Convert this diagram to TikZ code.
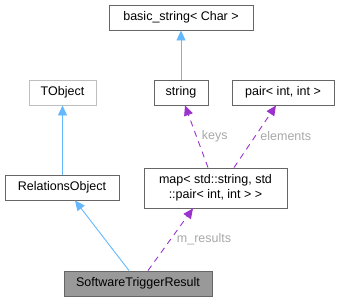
\documentclass[tikz,border=0pt]{standalone}
\usepackage{fontspec}
\setmainfont{Liberation Sans}
\usetikzlibrary{arrows.meta}
\definecolor{edgeblue}{HTML}{63B8FF}
\definecolor{edgepurple}{HTML}{9A32CD}
\definecolor{labelgray}{HTML}{A8A8A8}
\definecolor{boxgray}{HTML}{666666}
\begin{document}
\begin{tikzpicture}[x=1pt,y=-1pt,
  box/.style={draw=boxgray,line width=0.9pt,fill=white,inner sep=0pt,font=\fontsize{12.5}{14.5}\selectfont,align=center},
  inh/.style={draw=edgeblue,line width=0.9pt,-{Triangle[length=10pt,width=9pt]}},
  use/.style={draw=edgepurple,line width=0.9pt,dash pattern=on 6pt off 5pt,-{Triangle[length=10pt,width=9pt]}},
  lbl/.style={text=labelgray,font=\fontsize{12.5}{14.5}\selectfont,inner sep=1pt}]
\useasboundingbox (0,0) rectangle (341,301);
\node[box,minimum width=144pt,minimum height=25pt] (bs) at (181,17.5) {basic\_string< Char >};
\node[box,draw=black!25,minimum width=67pt,minimum height=25pt] (tobj) at (62.5,92.5) {TObject};
\node[box,minimum width=54pt,minimum height=25pt] (str) at (181,92.5) {string};
\node[box,minimum width=102pt,minimum height=25pt] (pair) at (283,92.5) {pair< int, int >};
\node[box,minimum width=114pt,minimum height=25pt] (rel) at (62,187.5) {RelationsObject};
\node[box,minimum width=143pt,minimum height=40pt] (map) at (215.5,188) {map< std::string, std\\::pair< int, int > >};
\node[box,fill=black!40,minimum width=148pt,minimum height=25pt] (stv) at (138,283.5) {SoftwareTriggerResult};
\draw[inh] (str.north) -- (bs.south);
\draw[inh] (tobj.south |- rel.north) -- (tobj.south);
\draw[inh] ([xshift=-9pt]stv.north) -- ([xshift=13pt]rel.south);
\draw[use] ([xshift=10pt]stv.north) -- ([xshift=-22.5pt]map.south) node[lbl,pos=0.5,right=5pt] {m\_results};
\draw[use] ([xshift=-7.5pt]map.north) -- ([xshift=4pt]str.south) node[lbl,pos=0.5,right=4pt] {keys};
\draw[use] ([xshift=18.5pt]map.north) -- ([xshift=-7pt]pair.south) node[lbl,pos=0.5,right=4pt] {elements};
\end{tikzpicture}
\end{document}
